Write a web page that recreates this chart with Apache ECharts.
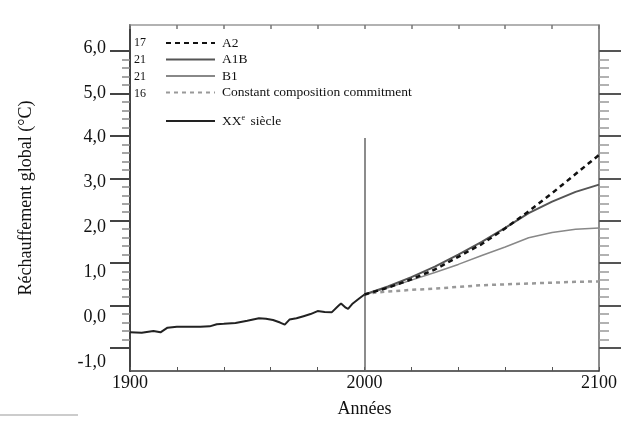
<!DOCTYPE html>
<html><head><meta charset="utf-8">
<script src="https://cdn.jsdelivr.net/npm/echarts@6/dist/echarts.min.js"></script>
<style>html,body{margin:0;padding:0;background:#fff}#c{width:633px;height:426px}</style>
</head><body><div id="c"></div>
<script>
// ---- data ----
const histYears = [1900,1905,1910,1913,1916,1920,1925,1930,1934,1937,1940,1945,1950,1955,1958,1961,1964,1966,1968,1971,1974,1977,1980,1983,1986,1989,1990,1992,1993,1995,1998,2000];
const histValues = [-0.63,-0.64,-0.6,-0.63,-0.52,-0.5,-0.5,-0.5,-0.49,-0.44,-0.43,-0.41,-0.36,-0.3,-0.31,-0.34,-0.4,-0.45,-0.33,-0.3,-0.25,-0.2,-0.13,-0.15,-0.16,0.0,0.05,-0.05,-0.08,0.05,0.18,0.26];
const projYears = [2000,2010,2020,2030,2040,2050,2060,2070,2080,2090,2100];
const a2Values  = [0.26,0.42,0.62,0.85,1.15,1.45,1.82,2.22,2.65,3.1,3.55];
const a1bValues = [0.26,0.45,0.67,0.92,1.2,1.5,1.83,2.18,2.45,2.68,2.85];
const b1Values  = [0.26,0.42,0.6,0.78,0.97,1.18,1.38,1.6,1.72,1.8,1.83];
const commitYears  = [2000,2005,2010,2020,2030,2040,2050,2060,2070,2080,2090,2100];
const commitValues = [0.26,0.31,0.33,0.37,0.4,0.44,0.48,0.5,0.52,0.54,0.56,0.57];
const seriesNames = ['A2','A1B','B1','Constant composition commitment','XXe siècle'];
const modelCounts = ['17','21','21','16'];
const yTicks = [-1,0,1,2,3,4,5,6];
const xLabelYears = [1900,2000,2100];
const markerYear = 2000;
const markerTop = 3.95;

function pairs(xs, ys){ return xs.map((x,i)=>[x, ys[i]]); }

const SERIF = '"Liberation Serif","DejaVu Serif",serif';
const chart = echarts.init(document.getElementById('c'));
const dataMin = -1.542, dataMax = 6.613;

const hiddenX = (g)=>({gridIndex:g,type:'value',min:1900,max:2100,show:false});

chart.setOption({
  animation:false,
  backgroundColor:'#fff',
  grid:[
    {left:130,right:34,top:25,bottom:55},
    {left:130,right:34,top:51,bottom:78},
    {left:130,right:34,top:48,bottom:64}
  ],
  legend:[
    {orient:'vertical',left:160,top:31,itemWidth:49,itemHeight:14,itemGap:2.5,
     data:seriesNames.slice(0,4),itemStyle:{opacity:0},
     textStyle:{fontFamily:SERIF,fontSize:13.5,color:'#111',padding:[0,0,0,2]}},
    {orient:'vertical',left:160,top:109,itemWidth:49,itemHeight:14,
     data:[seriesNames[4]],itemStyle:{opacity:0},
     formatter:()=>'XX{s|e} siècle',
     textStyle:{fontFamily:SERIF,fontSize:13.5,color:'#111',padding:[0,0,0,2],
       rich:{s:{fontSize:8,verticalAlign:'top',padding:[0,2,6,0],fontFamily:SERIF,color:'#111'}}}}
  ],
  xAxis:[
    {gridIndex:0,type:'value',min:1900,max:2100,interval:20,
     name:'Années',nameLocation:'middle',nameGap:29,
     nameTextStyle:{fontFamily:SERIF,fontSize:18,color:'#111'},
     axisLine:{onZero:false,lineStyle:{color:'#333',width:1.5}},
     axisTick:{inside:true,length:4,lineStyle:{color:'#555'}},
     axisLabel:{fontFamily:SERIF,fontSize:18,color:'#111',margin:3,
       formatter:v=>xLabelYears.includes(v)?String(v):''},
     splitLine:{show:false}},
    {gridIndex:0,type:'value',min:1900,max:2100,interval:20,position:'top',
     axisLine:{onZero:false,lineStyle:{color:'#999',width:1.5}},
     axisTick:{inside:true,length:4,lineStyle:{color:'#777',width:1.5}},
     axisLabel:{show:false},splitLine:{show:false}},
    hiddenX(1), hiddenX(2)
  ],
  yAxis:[
    {gridIndex:0,type:'value',min:dataMin,max:dataMax,
     name:'Réchauffement global (°C)',nameLocation:'middle',nameGap:95,
     nameTextStyle:{fontFamily:SERIF,fontSize:18,color:'#111'},
     axisLine:{show:true,onZero:false,lineStyle:{color:'#444',width:2}},
     axisTick:{show:false},axisLabel:{show:false},splitLine:{show:false}},
    {gridIndex:0,type:'value',min:dataMin,max:dataMax,position:'right',
     axisLine:{show:true,onZero:false,lineStyle:{color:'#666',width:1.5}},
     axisTick:{show:false},axisLabel:{show:false},splitLine:{show:false}},
    {gridIndex:1,type:'value',min:-1,max:6,interval:1,
     axisLine:{show:false,onZero:false},
     axisTick:{show:true,length:20,lineStyle:{color:'#444',width:2}},
     minorTick:{show:true,splitNumber:5,length:8,lineStyle:{color:'#888',width:1.5}},
     axisLabel:{show:false},splitLine:{show:false}},
    {gridIndex:1,type:'value',min:-1,max:6,interval:1,position:'right',
     axisLine:{show:false,onZero:false},
     axisTick:{show:true,length:22,lineStyle:{color:'#555',width:2}},
     minorTick:{show:true,splitNumber:5,length:10,lineStyle:{color:'#999',width:1.5}},
     axisLabel:{show:false},splitLine:{show:false}},
    {gridIndex:2,type:'value',min:-1,max:6,interval:1,
     axisLine:{show:false,onZero:false},axisTick:{show:false},splitLine:{show:false},
     axisLabel:{fontFamily:SERIF,fontSize:18,color:'#111',margin:24,
       formatter:v=>yTicks.includes(v)?v.toFixed(1).replace('.',','):''}}
  ],
  graphic:[
    ...modelCounts.map((t,i)=>({type:'text',left:134,top:37+i*17,
      style:{text:t,font:'12px '+SERIF,fill:'#111'}})),
    {type:'line',shape:{x1:0,y1:415,x2:78,y2:415},style:{stroke:'#bbb',lineWidth:1.5}}
  ],
  series:[
    {name:seriesNames[0],type:'line',xAxisIndex:0,yAxisIndex:0,symbol:'none',z:5,
     data:pairs(projYears,a2Values),
     lineStyle:{color:'#111',width:2.5,type:[5,4]},itemStyle:{color:'#111'}},
    {name:seriesNames[1],type:'line',xAxisIndex:0,yAxisIndex:0,symbol:'none',z:4,
     data:pairs(projYears,a1bValues),
     lineStyle:{color:'#555',width:2},itemStyle:{color:'#555'}},
    {name:seriesNames[2],type:'line',xAxisIndex:0,yAxisIndex:0,symbol:'none',z:3,
     data:pairs(projYears,b1Values),
     lineStyle:{color:'#888',width:1.5},itemStyle:{color:'#888'}},
    {name:seriesNames[3],type:'line',xAxisIndex:0,yAxisIndex:0,symbol:'none',z:3,
     data:pairs(commitYears,commitValues),
     lineStyle:{color:'#999',width:2.5,type:[4,4]},itemStyle:{color:'#999'}},
    {name:seriesNames[4],type:'line',xAxisIndex:0,yAxisIndex:0,symbol:'none',z:6,
     data:pairs(histYears,histValues),
     lineStyle:{color:'#222',width:2},itemStyle:{color:'#222'},
     markLine:{silent:true,symbol:'none',label:{show:false},
       lineStyle:{color:'#666',width:1.5,type:'solid'},
       data:[[{coord:[markerYear,dataMin]},{coord:[markerYear,markerTop]}]]}}
  ]
});
</script></body></html>
